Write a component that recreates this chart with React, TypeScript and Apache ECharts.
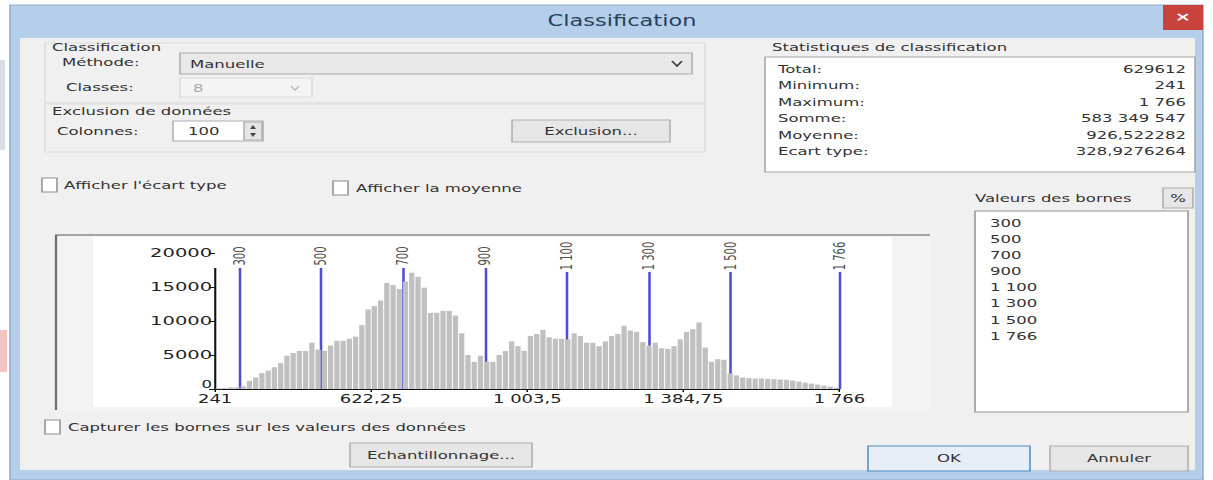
import React, { useEffect, useRef } from "react";
import * as echarts from "echarts";

// ---------- data ----------
const xMin = 241;
const xMax = 1766;
const binCounts = [
  100, 150, 250, 250, 400, 1200, 1700, 2350, 2700, 3200,
  3800, 4900, 5300, 5600, 5600, 6800, 5800, 5600, 6400, 7100,
  7100, 7400, 7700, 9400, 11700, 12200, 13000, 15600, 15300, 14700,
  15800, 17100, 16500, 14900, 11200, 11200, 11500, 11500, 10800, 8200,
  5000, 4000, 4900, 4000, 4000, 5000, 5600, 7000, 6300, 5600,
  7800, 8100, 8700, 7600, 7400, 7400, 7300, 8200, 7800, 6800,
  6800, 6300, 7000, 7800, 8100, 9300, 8600, 8400, 6900, 6400,
  6800, 6000, 5900, 6300, 7300, 8400, 8800, 9800, 6100, 4000,
  4400, 4300, 2300, 2000, 1700, 1600, 1550, 1550, 1500, 1450,
  1400, 1350, 1250, 1100, 950, 800, 650, 500, 350, 200,
];
const binLabels = binCounts.map((_, i) => `bin${i + 1}`);
const xTickValues = [241, 622.25, 1003.5, 1384.75, 1766];
const yTickMax = 20000;
const yTickStep = 5000;
const breakValues = [300, 500, 700, 900, 1100, 1300, 1500, 1766];
const breakLabels = ["300", "500", "700", "900", "1 100", "1 300", "1 500", "1 766"];
const statLabels = ["Total:", "Minimum:", "Maximum:", "Somme:", "Moyenne:", "Ecart type:"];
const statValues = ["629612", "241", "1 766", "583 349 547", "926,522282", "328,9276264"];

// ---------- layout helpers ----------
const S = 1.5; // horizontal stretch of the screenshot
const W = 1213 / S;
const X = (x: number) => x / S;
const FONT = '"DejaVu Sans", Verdana, sans-serif';
const TXT = "#333333";

const fmtFr = (v: number) => {
  const s = String(v);
  const [ip, dp] = s.split(".");
  const g = ip.replace(/\B(?=(\d{3})+(?!\d))/g, " ");
  return dp ? `${g},${dp}` : g;
};

const rect = (x1: number, y1: number, x2: number, y2: number, style: any, z = 0) => ({
  type: "rect",
  silent: true,
  z,
  shape: { x: X(x1), y: y1, width: X(x2) - X(x1), height: y2 - y1 },
  style,
});
const line = (x1: number, y1: number, x2: number, y2: number, stroke: string, w = 1, z = 0) => ({
  type: "line",
  silent: true,
  z,
  shape: { x1: X(x1), y1, x2: X(x2), y2 },
  style: { stroke, lineWidth: w },
});
const text = (
  str: string,
  x: number,
  y: number,
  o: { size?: number; fill?: string; align?: string; weight?: string } = {}
) => ({
  type: "text",
  silent: true,
  z: 1,
  x: X(x),
  y,
  style: {
    text: str,
    fill: o.fill || TXT,
    fontSize: o.size || 11,
    fontFamily: FONT,
    fontWeight: o.weight || "normal",
    align: o.align || "left",
    textAlign: o.align || "left",
    verticalAlign: "middle",
    textVerticalAlign: "middle",
  },
});
const button = (x1: number, y1: number, x2: number, y2: number, label: string, stroke = "#adadad", fill = "#e6e6e6") => [
  rect(x1, y1, x2, y2, { fill, stroke, lineWidth: 1 }),
  text(label, (x1 + x2) / 2, (y1 + y2) / 2, { align: "center" }),
];
const checkbox = (x1: number, y1: number, label: string, tx: number) => [
  rect(x1, y1, x1 + 15, y1 + 14, { fill: "#ffffff", stroke: "#8f8f8f", lineWidth: 1 }),
  text(label, tx, y1 + 7),
];

function buildGraphic() {
  const els: any[] = [];
  // outside / window frame
  els.push(rect(0, 0, 1213, 480, { fill: "#ffffff" }, -2));
  els.push(rect(0, 330, 7, 372, { fill: "#f2c4c4" }, -2));
  els.push(rect(0, 60, 5, 150, { fill: "#d8dde6" }, -2));
  els.push(rect(10, 5, 1203, 480, { fill: "#b5cee9", stroke: "#8eaccc", lineWidth: 1 }, -1));
  els.push(rect(20, 38, 1195, 470, { fill: "#f0f0f0" }, -1));
  // title & close
  els.push(text("Classification", 622, 21, { size: 15, fill: "#24405f", align: "center" }));
  els.push(rect(1163, 5, 1203, 30, { fill: "#c9423c" }));
  els.push(text("×", 1183, 17, { size: 13, fill: "#ffffff", align: "center", weight: "bold" }));

  // classification group
  els.push(rect(45, 43, 705, 103, { fill: "none", stroke: "#dcdcdc", lineWidth: 1 }));
  els.push(rect(45, 104, 705, 152, { fill: "none", stroke: "#dcdcdc", lineWidth: 1 }));
  els.push(text("Classification", 52, 47));
  els.push(text("Méthode:", 62, 62));
  els.push(rect(180, 53, 692, 74, { fill: "#e9e9e9", stroke: "#acacac", lineWidth: 1 }));
  els.push(text("Manuelle", 190, 64));
  els.push({
    type: "polyline",
    silent: true,
    z: 1,
    shape: { points: [[X(672), 61], [X(677), 66], [X(682), 61]] },
    style: { stroke: "#333", lineWidth: 1.3, fill: "none" },
  });
  els.push(text("Classes:", 66, 87));
  els.push(rect(180, 78, 312, 97, { fill: "#f4f4f4", stroke: "#d9d9d9", lineWidth: 1 }));
  els.push(text("8", 193, 88, { fill: "#a8a8a8" }));
  els.push({
    type: "polyline",
    silent: true,
    z: 1,
    shape: { points: [[X(291), 86], [X(295), 90], [X(299), 86]] },
    style: { stroke: "#b0b0b0", lineWidth: 1, fill: "none" },
  });
  els.push(text("Exclusion de données", 52, 111));
  els.push(text("Colonnes:", 57, 131));
  els.push(rect(173, 121, 263, 141, { fill: "#ffffff", stroke: "#abadb3", lineWidth: 1 }));
  els.push(text("100", 188, 131));
  els.push(rect(244, 122, 262, 140, { fill: "#e5e5e5", stroke: "#adadad", lineWidth: 1 }));
  els.push({ type: "polygon", silent: true, z: 1, shape: { points: [[X(250), 129], [X(253), 125], [X(256), 129]] }, style: { fill: "#444" } });
  els.push({ type: "polygon", silent: true, z: 1, shape: { points: [[X(250), 133], [X(253), 137], [X(256), 133]] }, style: { fill: "#444" } });
  els.push(...button(512, 120, 670, 142, "Exclusion..."));

  // statistics
  els.push(text("Statistiques de classification", 772, 47));
  els.push(rect(765, 57, 1195, 172, { fill: "#ffffff", stroke: "#a3a3a3", lineWidth: 1 }));
  statLabels.forEach((l, i) => {
    const y = 69 + 16.4 * i;
    els.push(text(l, 778, y));
    els.push(text(statValues[i], 1186, y, { align: "right" }));
  });

  // checkboxes
  els.push(...checkbox(42, 178, "Afficher l'écart type", 64));
  els.push(...checkbox(333, 181, "Afficher la moyenne", 356));

  // class break list
  els.push(text("Valeurs des bornes", 975, 198));
  els.push(...button(1163, 188, 1193, 208, "%"));
  els.push(rect(975, 211, 1188, 412, { fill: "#ffffff", stroke: "#8f949b", lineWidth: 1 }));
  breakLabels.forEach((l, i) => els.push(text(l, 990, 223 + 16.1 * i)));

  // histogram panel
  els.push(rect(55, 234, 930, 410, { fill: "#f3f3f3" }));
  els.push(line(55, 235, 930, 235, "#8a8a8a", 1.5));
  els.push(line(56, 235, 56, 410, "#6f6f6f", 1.5));
  els.push(rect(93, 237, 892, 407, { fill: "#ffffff" }));

  // bottom controls
  els.push(...checkbox(45, 420, "Capturer les bornes sur les valeurs des données", 68));
  els.push(...button(350, 443, 532, 467, "Echantillonnage..."));
  els.push(...button(868, 446, 1030, 471, "OK", "#4f8ac0", "#e7eef7"));
  els.push(...button(1050, 446, 1188, 471, "Annuler"));
  return els;
}

const breakTop = (label: string) => (label.length > 3 ? 17200 : 17800);
const labelCenter = 19560;
const yAxisLineTop = 17800;

export default function App() {
  const ref = useRef<HTMLDivElement>(null);
  useEffect(() => {
    const chart = echarts.init(ref.current!, null, { renderer: "svg" });
    const markData: any[] = breakValues.map((b, i) => [
      { coord: [b, 0], lineStyle: { color: "#4d4dd6", width: 1.7, type: "solid" } },
      { coord: [b, breakTop(breakLabels[i])] },
    ]);
    // left axis line, stopping below the top tick as in the dialog
    markData.push([
      { coord: [xMin, 0], lineStyle: { color: "#111111", width: 1.4, type: [400, 1] } },
      { coord: [xMin, yAxisLineTop] },
    ]);
    chart.setOption({
      animation: false,
      grid: { left: X(215.1), top: 253, width: X(839.5) - X(215.1), height: 136 },
      xAxis: [
        { type: "category", gridIndex: 0, data: binLabels, show: false, boundaryGap: true },
        {
          type: "value",
          gridIndex: 0,
          position: "bottom",
          min: xMin,
          max: xMax,
          z: 10,
          axisLine: { show: true, onZero: false, lineStyle: { color: "#111", width: 1.2 } },
          axisTick: { show: true, customValues: xTickValues, length: 3, lineStyle: { color: "#111" } },
          axisLabel: { customValues: xTickValues, formatter: fmtFr, fontSize: 12, color: "#222", margin: 4, fontFamily: FONT },
          splitLine: { show: false },
        },
      ],
      yAxis: {
        type: "value",
        min: 0,
        max: yTickMax,
        interval: yTickStep,
        z: 10,
        axisLine: { show: false },
        axisTick: { show: true, length: 4, lineStyle: { color: "#111" } },
        axisLabel: {
          fontSize: 13,
          color: "#222",
          margin: 2,
          fontFamily: FONT,
          formatter: (v: number) => (v === 0 ? "{z|0}" : String(v)),
          rich: { z: { fontSize: 11, fontFamily: FONT, color: "#222", padding: [0, 0, 9, 0] } },
        },
        splitLine: { show: false },
      },
      series: [
        {
          type: "bar",
          xAxisIndex: 0,
          yAxisIndex: 0,
          data: binCounts,
          barCategoryGap: "16%",
          itemStyle: { color: "#c0c0c0" },
          z: 5,
        },
        {
          type: "scatter",
          xAxisIndex: 1,
          yAxisIndex: 0,
          symbol: "circle",
          symbolSize: 1,
          itemStyle: { color: "rgba(0,0,0,0)" },
          clip: false,
          z: 6,
          data: breakValues.map((b) => [b, labelCenter]),
          label: {
            show: true,
            position: "inside",
            rotate: 90,
            fontSize: 10,
            fontFamily: FONT,
            color: "#222",
            formatter: (p: any) => breakLabels[p.dataIndex],
          },
          emphasis: { disabled: true },
          markLine: {
            silent: true,
            symbol: ["none", "none"],
            label: { show: false },
            animation: false,
            data: markData,
          },
        },
      ],
      graphic: { elements: buildGraphic() },
    });
    return () => chart.dispose();
  }, []);
  return (
    <div
      ref={ref}
      style={{
        position: "absolute",
        left: 0,
        top: 0,
        width: W,
        height: 480,
        transform: `scaleX(${S})`,
        transformOrigin: "0 0",
      }}
    />
  );
}
